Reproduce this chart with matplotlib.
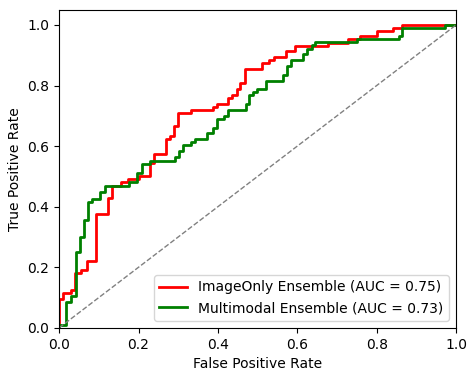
import matplotlib
matplotlib.use('Agg')
import matplotlib.pyplot as plt

# ROC points (corner after each vertical rise)
fpr_img = [0, 0, 0.01, 0.029, 0.04, 0.054, 0.071, 0.092, 0.124, 0.134, 0.155, 0.174, 0.2,
           0.23, 0.239, 0.269, 0.279, 0.289, 0.3, 0.331, 0.387, 0.397, 0.426, 0.436, 0.447,
           0.455, 0.468, 0.51, 0.529, 0.541, 0.571, 0.594, 0.678, 0.729, 0.758, 0.8, 0.842,
           0.863, 1.0]
tpr_img = [0, 0.095, 0.115, 0.125, 0.18, 0.19, 0.22, 0.375, 0.43, 0.47, 0.48, 0.49, 0.50,
           0.545, 0.575, 0.625, 0.635, 0.665, 0.71, 0.72, 0.73, 0.74, 0.76, 0.77, 0.79,
           0.81, 0.855, 0.875, 0.885, 0.895, 0.915, 0.93, 0.94, 0.955, 0.965, 0.98, 0.99,
           1.0, 1.0]

fpr_mm = [0, 0, 0.018, 0.029, 0.042, 0.052, 0.062, 0.073, 0.082, 0.103, 0.115, 0.176, 0.197,
          0.208, 0.229, 0.292, 0.303, 0.311, 0.331, 0.342, 0.373, 0.387, 0.397, 0.415, 0.426,
          0.471, 0.479, 0.489, 0.499, 0.521, 0.563, 0.573, 0.583, 0.615, 0.625, 0.636, 0.645,
          0.75, 0.857, 0.863, 0.972, 1.0]
tpr_mm = [0, 0.01, 0.085, 0.105, 0.25, 0.30, 0.355, 0.415, 0.425, 0.45, 0.47, 0.48, 0.51,
          0.54, 0.55, 0.565, 0.585, 0.605, 0.615, 0.625, 0.645, 0.66, 0.69, 0.70, 0.72,
          0.74, 0.77, 0.78, 0.79, 0.815, 0.835, 0.865, 0.885, 0.905, 0.92, 0.935, 0.945,
          0.955, 0.965, 0.99, 1.0, 1.0]

auc_img = 0.75
auc_mm = 0.73

fig = plt.figure(figsize=(4.77, 3.79), dpi=100)
ax = fig.add_axes([0.124, 0.135, 0.832, 0.839])

ax.plot(fpr_img, tpr_img, drawstyle='steps-post', color='red', lw=2,
        label='ImageOnly Ensemble (AUC = %.2f)' % auc_img)
ax.plot(fpr_mm, tpr_mm, drawstyle='steps-post', color='green', lw=2,
        label='Multimodal Ensemble (AUC = %.2f)' % auc_mm)
ax.plot([0, 1], [0, 1], linestyle='--', color='gray', lw=1)

ax.set_xlim(0.0, 1.0)
ax.set_ylim(0.0, 1.05)
ax.set_xlabel('False Positive Rate')
ax.set_ylabel('True Positive Rate')
ax.legend(loc='lower right')

fig.savefig('out.png', dpi=100)
